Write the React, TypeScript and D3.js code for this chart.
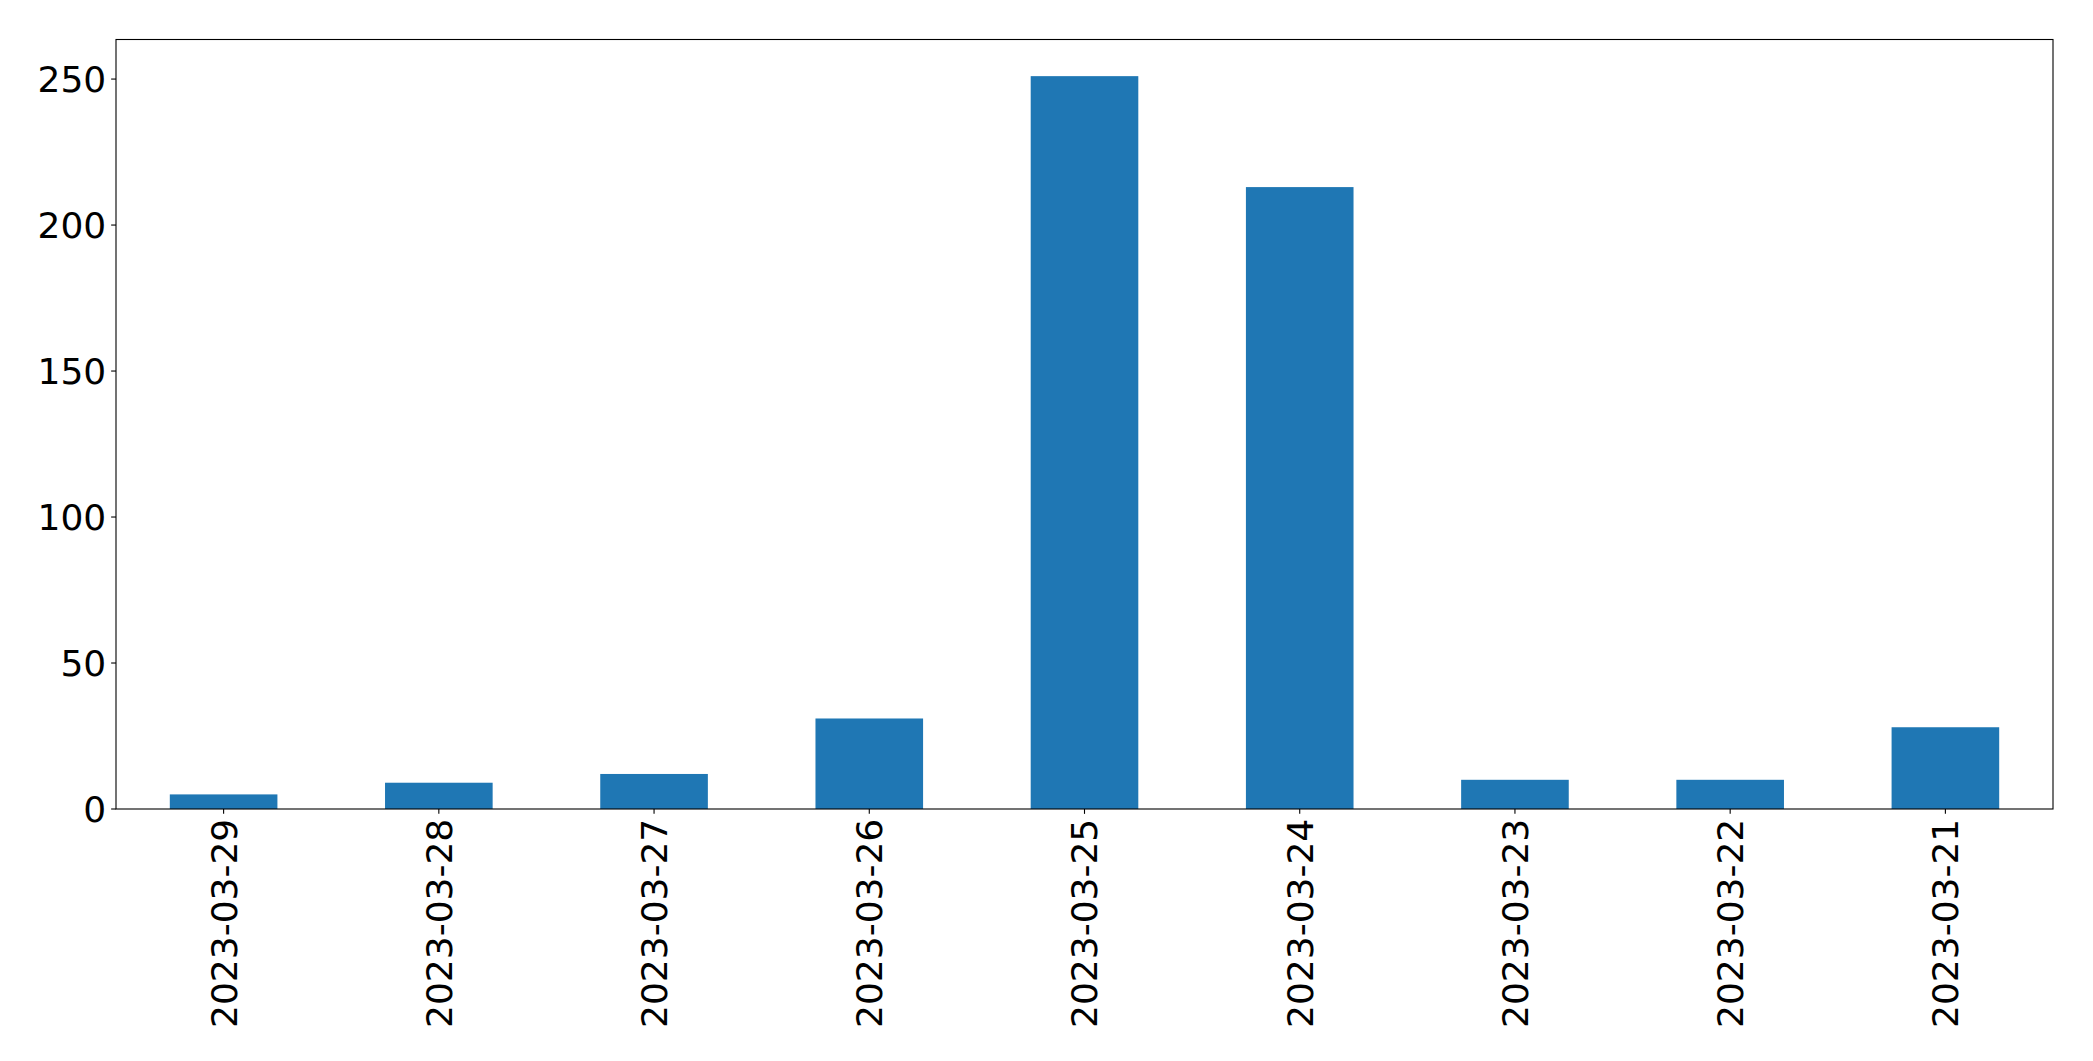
import React from "react";
import * as d3 from "d3";

const categories = ["2023-03-29", "2023-03-28", "2023-03-27", "2023-03-26", "2023-03-25", "2023-03-24", "2023-03-23", "2023-03-22", "2023-03-21"];
const values = [5, 9, 12, 31, 251, 213, 10, 10, 28];
const yTicks = [0, 50, 100, 150, 200, 250];

const W = 2093;
const H = 1061;
const left = 116;
const right = 2053;
const top = 39.5;
const bottom = 809;

export default function App() {
  const x = d3.scaleLinear().domain([-0.5, categories.length - 0.5]).range([left, right]);
  const yMax = d3.max(values)! * 1.05;
  const y = d3.scaleLinear().domain([0, yMax]).range([bottom, top]);
  const bw = x(0.5) - x(0);
  const font = "DejaVu Sans, sans-serif";
  const tickLen = 4.86;
  const pad = 4.86;
  return (
    <svg width={W} height={H} style={{ position: "absolute", left: 0, top: 0, background: "#fff" }} fontFamily={font}>
      <rect x={0} y={0} width={W} height={H} fill="#fff" />
      {values.map((v, i) => (
        <rect key={i} x={x(i) - bw / 2} y={y(v)} width={bw} height={y(0) - y(v)} fill="#1f77b4" />
      ))}
      <rect x={left} y={top} width={right - left} height={bottom - top} fill="none" stroke="#000" strokeWidth={1.1} />
      {yTicks.map((t) => (
        <g key={t}>
          <line x1={left - tickLen} x2={left} y1={y(t)} y2={y(t)} stroke="#000" strokeWidth={1.1} />
          <text x={left - tickLen - pad} y={y(t)} dy="0.36em" textAnchor="end" fontSize={36} fill="#000">{t}</text>
        </g>
      ))}
      {categories.map((c, i) => (
        <g key={c}>
          <line x1={x(i)} x2={x(i)} y1={bottom} y2={bottom + tickLen} stroke="#000" strokeWidth={1.1} />
          <text transform={`translate(${x(i)},${bottom + tickLen + pad}) rotate(-90)`} dy="0.36em" textAnchor="end" fontSize={36} fill="#000">{c}</text>
        </g>
      ))}
    </svg>
  );
}
